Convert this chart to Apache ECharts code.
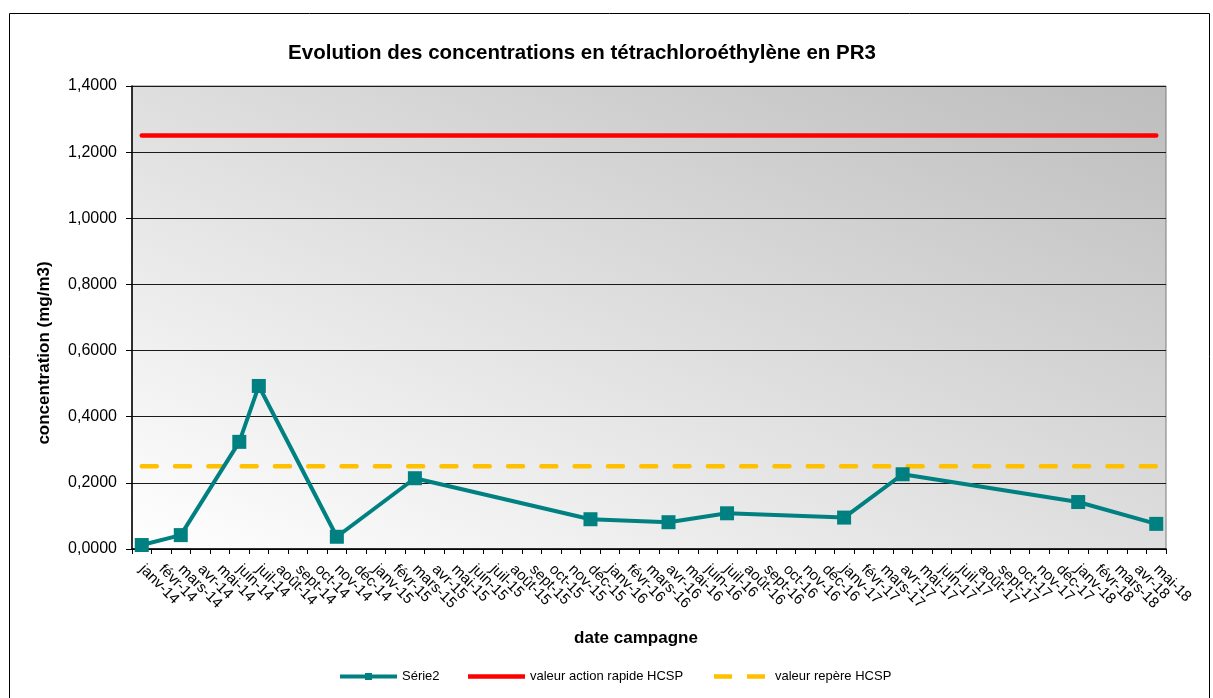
<!DOCTYPE html>
<html>
<head>
<meta charset="utf-8">
<script src="https://cdn.jsdelivr.net/npm/echarts@6/dist/echarts.min.js"></script>
<style>
html,body{margin:0;padding:0;background:#fff;}
#chart{width:1213px;height:698px;}
</style>
</head>
<body>
<div id="chart"></div>
<script>
const categories = [
  'janv-14','févr-14','mars-14','avr-14','mai-14','juin-14','juil-14','août-14','sept-14','oct-14','nov-14','déc-14',
  'janv-15','févr-15','mars-15','avr-15','mai-15','juin-15','juil-15','août-15','sept-15','oct-15','nov-15','déc-15',
  'janv-16','févr-16','mars-16','avr-16','mai-16','juin-16','juil-16','août-16','sept-16','oct-16','nov-16','déc-16',
  'janv-17','févr-17','mars-17','avr-17','mai-17','juin-17','juil-17','août-17','sept-17','oct-17','nov-17','déc-17',
  'janv-18','févr-18','mars-18','avr-18','mai-18'
];
// measured campaigns (month label, concentration mg/m3)
const campaignMonths = ['janv-14','mars-14','juin-14','juil-14','nov-14','mars-15','déc-15','avr-16','juil-16','janv-17','avr-17','janv-18','mai-18'];
const serie2Values   = [0.012, 0.042, 0.324, 0.493, 0.037, 0.214, 0.090, 0.081, 0.108, 0.095, 0.226, 0.142, 0.076];
const actionRapideHCSP = 1.25;
const repereHCSP = 0.25;
const yTicks = {min: 0, max: 1.4, interval: 0.2};

const serie2Data = campaignMonths.map((m, i) => [m, serie2Values[i]]);
const firstCat = categories[0], lastCat = categories[categories.length - 1];

const font = "'Liberation Sans', Arial, sans-serif";
const legendText = {fontFamily: font, fontSize: 13, color: '#000'};
const chart = echarts.init(document.getElementById('chart'), null, {renderer: 'canvas'});
chart.setOption({
  animation: false,
  backgroundColor: '#ffffff',
  textStyle: {fontFamily: font},
  title: {
    text: 'Evolution des concentrations en tétrachloroéthylène en PR3',
    left: 577, top: 38, textAlign: 'center',
    textStyle: {fontFamily: font, fontSize: 20.5, fontWeight: 'bold', color: '#000'}
  },
  graphic: [{
    type: 'rect', left: 7, top: 11, silent: true,
    shape: {width: 1200, height: 700},
    style: {fill: 'none', stroke: '#000', lineWidth: 1}
  }],
  legend: [
    {left: 340, top: 670, padding: 0, itemWidth: 57, itemHeight: 14, textStyle: legendText,
     data: [{name: 'Série2', icon: 'path://M0,1.5H57V5.5H0Z M25,0H32V7H25Z'}]},
    {left: 468, top: 670, padding: 0, itemWidth: 57, itemHeight: 14, textStyle: legendText,
     data: [{name: 'valeur action rapide HCSP', icon: 'path://M0,0H57V4.5H0Z'}]},
    {left: 714, top: 670, padding: 0, itemWidth: 51, itemHeight: 14,
     textStyle: Object.assign({padding: [0, 0, 0, 5]}, legendText),
     data: [{name: 'valeur repère HCSP', icon: 'path://M0,0H18V4.5H0Z M33,0H51V4.5H33Z'}]}
  ],
  grid: {
    left: 132, right: 47, top: 86, bottom: 149,
    show: true, borderColor: '#7a7a7a', borderWidth: 1,
    backgroundColor: new echarts.graphic.LinearGradient(476, 704, 822, -69, [
      {offset: 0, color: '#ffffff'},
      {offset: 1, color: '#bdbdbd'}
    ], true)
  },
  xAxis: {
    type: 'category', data: categories, boundaryGap: true,
    name: 'date campagne', nameLocation: 'middle', nameGap: 81,
    nameTextStyle: {fontFamily: font, fontSize: 17, fontWeight: 'bold', color: '#000', padding: [0, 26, 0, 0]},
    axisLine: {lineStyle: {color: '#000', width: 1.5}},
    axisTick: {show: true, interval: 0, length: 5, lineStyle: {color: '#000'}},
    axisLabel: {interval: 0, rotate: -45, fontSize: 15, color: '#000', fontFamily: font, margin: 18},
    splitLine: {show: false}
  },
  yAxis: {
    type: 'value', min: yTicks.min, max: yTicks.max, interval: yTicks.interval,
    name: 'concentration (mg/m3)', nameLocation: 'middle', nameGap: 79, nameRotate: 90,
    nameTextStyle: {fontFamily: font, fontSize: 17, fontWeight: 'bold', color: '#000', padding: [0, 71, 0, 0]},
    axisLine: {show: true, lineStyle: {color: '#000', width: 1.5}},
    axisTick: {show: true, length: 6, lineStyle: {color: '#000'}},
    axisLabel: {fontSize: 16, color: '#000', fontFamily: font, margin: 15,
      formatter: v => v.toFixed(4).replace('.', ',')},
    splitLine: {show: true, lineStyle: {color: '#1a1a1a', width: 1.2}}
  },
  series: [
    {
      name: 'valeur action rapide HCSP', type: 'line',
      data: [[firstCat, actionRapideHCSP], [lastCat, actionRapideHCSP]],
      symbol: 'none', color: '#ff0000',
      lineStyle: {color: '#ff0000', width: 4.5, cap: 'round'}, z: 2
    },
    {
      name: 'valeur repère HCSP', type: 'line',
      data: [[firstCat, repereHCSP], [lastCat, repereHCSP]],
      symbol: 'none', color: '#ffc000',
      lineStyle: {color: '#ffc000', width: 4.5, type: [15, 18.3], cap: 'round'}, z: 2
    },
    {
      name: 'Série2', type: 'line', data: serie2Data,
      color: '#008080',
      symbol: 'rect', symbolSize: 14,
      itemStyle: {color: '#008080'},
      lineStyle: {color: '#008080', width: 4}, z: 3
    }
  ]
});
</script>
</body>
</html>
